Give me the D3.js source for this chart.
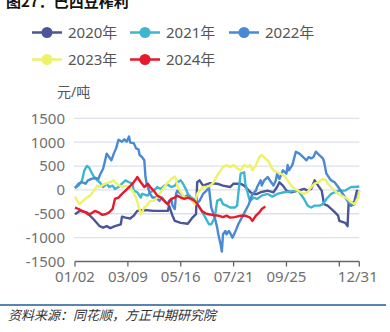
<!DOCTYPE html>
<html>
<head>
<meta charset="utf-8">
<script src="https://cdn.jsdelivr.net/npm/d3@7"></script>
<style>
  html, body { margin: 0; padding: 0; background: #fff; }
  svg { display: block; font-family: "Noto Sans", "Noto Sans CJK SC", sans-serif; }
</style>
</head>
<body>
<svg id="chart" width="390" height="332"></svg>
<script>
// Trading-day slots across one calendar year
const dayCount = 243;
const tickIndex = [0, 45, 90, 135, 180, 225, 242];
const tickLabels = ["01/02", "03/09", "05/16", "07/21", "09/25", "", "12/31"];
const yTicks = [1500, 1000, 500, 0, -500, -1000, -1500];

const years = ["2020年", "2021年", "2022年", "2023年", "2024年"];
const colors = ["#4b5599", "#3db6d0", "#4a89d4", "#eef268", "#e8192c"];

// Crush margin, yuan/ton: [trading-day index, value]
const m2020 = [[0,-510],[4,-440],[10,-470],[16,-620],[21,-760],[24,-790],[27,-760],[30,-800],[34,-760],[39,-720],[40,-560],[43,-580],[47,-600],[50,-540],[53,-440],[59,-420],[67,-440],[79,-440],[80,-330],[83,-540],[85,-650],[90,-690],[96,-710],[100,-580],[103,-510],[104,160],[106,200],[109,90],[115,140],[121,130],[126,90],[132,60],[135,130],[141,130],[144,90],[148,-15],[151,-85],[155,-85],[158,-50],[164,-15],[169,-50],[172,60],[174,160],[177,90],[180,-15],[184,-50],[190,-15],[195,20],[198,-15],[201,20],[204,200],[207,90],[210,-15],[212,-300],[215,-330],[220,-440],[224,-540],[225,-650],[230,-690],[232,-760],[233,-230],[235,-330],[238,-230],[240,-15],[242,-50]];
const m2021 = [[0,40],[3,90],[6,200],[8,410],[10,500],[12,470],[14,370],[16,280],[19,200],[21,160],[24,60],[27,130],[29,60],[32,90],[34,20],[37,60],[40,130],[43,200],[46,160],[49,130],[50,-15],[53,-50],[56,-160],[57,-85],[62,-120],[64,-50],[67,-15],[70,60],[73,20],[76,90],[79,110],[82,60],[85,90],[87,160],[90,200],[92,130],[95,-15],[96,-85],[99,-160],[102,-200],[106,-370],[111,-580],[114,-720],[116,-720],[119,-580],[121,-230],[124,-190],[126,-300],[129,-330],[132,-370],[136,-370],[138,-330],[139,-85],[141,340],[144,370],[145,130],[148,-160],[149,-230],[152,-160],[155,-190],[159,-120],[164,-85],[168,-140],[172,-85],[178,-50],[184,-30],[190,-15],[192,-85],[195,-190],[198,-330],[201,-370],[204,-330],[208,-330],[211,-300],[214,-190],[218,-85],[221,-50],[225,-15],[230,-15],[232,20],[235,60],[238,60],[242,70]];
const m2022 = [[0,40],[3,130],[6,160],[9,130],[11,200],[14,230],[17,250],[20,230],[21,300],[24,450],[27,760],[29,690],[31,620],[33,760],[35,870],[37,1050],[40,1010],[42,1060],[44,1010],[46,1120],[47,990],[50,980],[52,870],[54,850],[55,730],[57,690],[59,620],[60,270],[61,130],[63,-15],[64,-85],[66,-160],[69,-160],[72,-230],[74,-160],[77,-260],[79,-300],[80,-230],[82,-190],[83,-330],[85,-400],[86,-85],[87,-15],[90,-85],[93,-160],[95,-120],[97,-160],[100,-230],[103,-300],[106,-230],[109,-85],[112,-15],[114,60],[115,-160],[116,-370],[119,-580],[121,-790],[122,-930],[124,-1150],[125,-1290],[126,-930],[128,-860],[129,-930],[131,-860],[132,-900],[134,-1000],[136,-900],[139,-720],[142,-580],[145,-440],[148,-300],[151,-85],[154,-15],[155,60],[158,200],[159,90],[161,200],[164,270],[167,160],[169,90],[171,200],[172,340],[174,230],[177,410],[180,340],[181,520],[182,410],[185,520],[188,800],[191,760],[194,690],[197,620],[199,690],[201,660],[203,690],[205,800],[208,730],[211,660],[212,590],[214,340],[217,230],[218,200],[221,160],[224,60],[227,-50],[230,-160],[232,-230],[235,-330],[238,-300],[241,-85],[242,-15]];
const m2023 = [[0,-140],[2,-230],[4,-300],[7,-230],[10,-160],[13,-120],[16,-15],[19,90],[21,60],[24,110],[27,140],[30,160],[33,200],[34,160],[37,110],[40,60],[43,90],[46,60],[49,-15],[52,-160],[54,-330],[56,-510],[59,-370],[62,-300],[64,-230],[67,-230],[70,-160],[73,-50],[76,60],[79,160],[82,230],[85,280],[86,230],[87,90],[90,-50],[93,-160],[96,-160],[99,-190],[102,-300],[104,-85],[106,-15],[109,60],[112,60],[115,90],[118,160],[121,300],[124,410],[126,480],[129,520],[132,480],[135,520],[138,450],[141,410],[144,520],[147,480],[149,520],[151,410],[154,520],[157,690],[159,730],[162,660],[165,590],[167,480],[169,410],[172,370],[175,340],[178,300],[181,200],[184,90],[187,20],[190,-15],[192,-50],[195,-85],[198,-50],[201,60],[204,130],[207,160],[211,230],[214,200],[215,130],[218,60],[221,-15],[224,-85],[227,-120],[230,-160],[232,-190],[235,-260],[238,-300],[241,-160],[242,-15]];
const m2024 = [[0,-370],[3,-400],[6,-440],[9,-470],[11,-510],[14,-490],[17,-440],[20,-470],[23,-520],[26,-510],[29,-470],[32,-400],[34,-190],[37,-160],[40,-85],[43,-15],[46,60],[49,130],[52,230],[53,270],[56,160],[59,60],[62,130],[64,60],[67,-15],[70,-120],[73,-160],[76,-230],[79,-300],[82,-190],[85,-160],[87,-120],[90,-160],[93,-190],[96,-160],[99,-190],[102,-230],[105,-330],[108,-440],[111,-490],[114,-510],[118,-530],[122,-540],[126,-570],[129,-540],[132,-580],[136,-570],[141,-540],[145,-540],[149,-580],[151,-650],[154,-540],[157,-470],[159,-400],[162,-350]];

const seriesList = [m2020, m2021, m2022, m2023, m2024];

const svg = d3.select("#chart");

const x = d3.scaleLinear().domain([0, dayCount - 1]).range([75, 359.3]);
const y = d3.scaleLinear().domain([-1500, 1500]).range([261.5, 118.3]);

// Heading, partly above the top edge
svg.append("text")
  .attr("x", 6).attr("y", 7)
  .attr("font-family", "'Noto Sans CJK SC', sans-serif")
  .attr("font-size", 15).attr("font-weight", "bold").attr("fill", "#111")
  .text("图27：巴西豆榨利");

// Legend
const legend = svg.append("g");
const legendPos = [[32, 32.5], [130, 32.5], [229, 32.5], [32, 59.5], [130, 59.5]];
years.forEach((name, i) => {
  const [lx, ly] = legendPos[i];
  const g = legend.append("g").attr("transform", `translate(${lx},${ly})`);
  g.append("line").attr("x1", 0).attr("x2", 30).attr("y1", 0).attr("y2", 0)
    .attr("stroke", colors[i]).attr("stroke-width", 2.5);
  g.append("circle").attr("cx", 15).attr("cy", 0).attr("r", 5.5).attr("fill", colors[i]);
  g.append("text").attr("x", 36).attr("y", 0).attr("dy", "0.36em")
    .attr("font-size", 15).attr("fill", "#555").text(name);
});

// Unit label
svg.append("text").attr("x", 57).attr("y", 97)
  .attr("font-size", 14).attr("fill", "#555").text("元/吨");

// Horizontal grid
svg.append("g").selectAll("line").data(yTicks.filter(d => d > -1500)).join("line")
  .attr("x1", 74).attr("x2", 359.3)
  .attr("y1", d => y(d)).attr("y2", d => y(d))
  .attr("stroke", "#dde1ec").attr("stroke-width", 1.3);

// Y axis labels
svg.append("g").selectAll("text").data(yTicks).join("text")
  .attr("x", 65).attr("y", d => y(d)).attr("dy", "0.36em")
  .attr("text-anchor", "end").attr("font-size", 15).attr("fill", "#707070")
  .text(d => d);

// X axis
const xAxis = svg.append("g");
xAxis.append("line").attr("x1", x(0)).attr("x2", x(dayCount - 1))
  .attr("y1", y(-1500)).attr("y2", y(-1500))
  .attr("stroke", "#666").attr("stroke-width", 1.3);
xAxis.selectAll(".tick").data(tickIndex).join("line")
  .attr("x1", d => x(d)).attr("x2", d => x(d))
  .attr("y1", y(-1500)).attr("y2", y(-1500) + 5)
  .attr("stroke", "#666").attr("stroke-width", 1.3);
xAxis.selectAll("text").data(tickIndex).join("text")
  .attr("x", (d, i) => i === tickIndex.length - 1 ? x(d) - 1.5 : x(d))
  .attr("y", 281.5).attr("text-anchor", "middle")
  .attr("font-size", 15).attr("fill", "#707070")
  .text((d, i) => tickLabels[i]);

// Series lines
const line = d3.line().x(d => x(d[0])).y(d => y(d[1]));
svg.append("g").selectAll("path").data(seriesList).join("path")
  .attr("d", line)
  .attr("fill", "none")
  .attr("stroke", (d, i) => colors[i])
  .attr("stroke-width", 2.4)
  .attr("stroke-linejoin", "round");

// Footer rule and source
svg.append("line").attr("x1", 0).attr("x2", 386).attr("y1", 305).attr("y2", 305)
  .attr("stroke", "#1f5c99").attr("stroke-width", 1.5);
svg.append("text").attr("x", 8).attr("y", 320)
  .attr("font-family", "'Noto Sans CJK SC', sans-serif")
  .attr("font-size", 13).attr("font-style", "italic").attr("fill", "#333")
  .text("资料来源：同花顺，方正中期研究院");
</script>
</body>
</html>
